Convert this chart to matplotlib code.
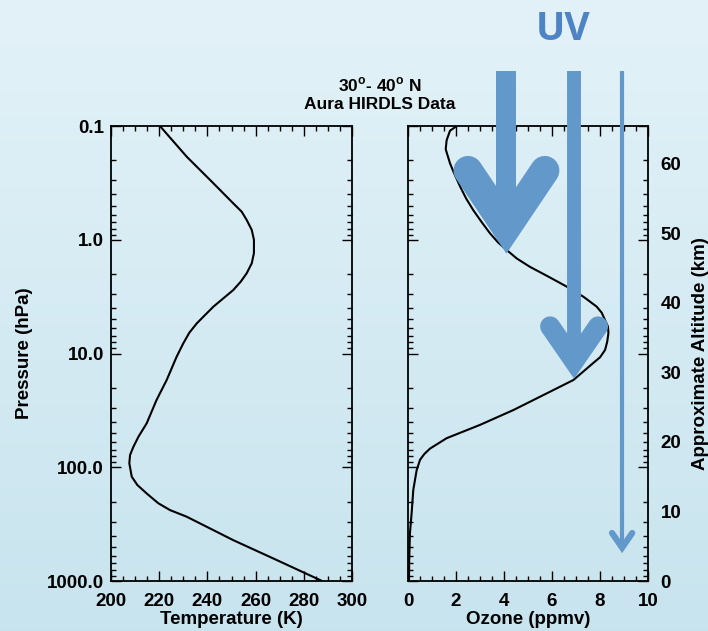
import numpy as np
import matplotlib
matplotlib.use('Agg')
import matplotlib.pyplot as plt
from matplotlib.ticker import FixedLocator, MultipleLocator, LogLocator, FuncFormatter, NullFormatter

plt.rcParams['font.family'] = ['Liberation Sans', 'DejaVu Sans']
plt.rcParams['font.weight'] = 'bold'
plt.rcParams['mathtext.fontset'] = 'custom'
plt.rcParams['mathtext.rm'] = 'Liberation Sans:bold'
plt.rcParams['mathtext.bf'] = 'Liberation Sans:bold'

# temperature profile, 30-40N
t_press = [0.1, 0.186, 0.319, 0.478, 0.566, 0.67, 0.82, 1.0, 1.31, 1.61, 1.97, 2.34, 2.77,
           3.87, 4.59, 5.43, 6.56, 8.13, 10.7, 17.1, 25.6, 41.1, 53.8, 66.0, 78.0, 92.3,
           121, 143, 170, 207, 238, 272, 437, 653, 1000]
t_temp = [220.3, 231.4, 242.5, 250.7, 254.2, 256.3, 258.4, 259.3, 259.3, 258.4, 256.3, 253.8,
          250.7, 242.5, 239.0, 235.6, 232.5, 230.0, 227.2, 223.1, 218.9, 214.8, 211.4, 209.3,
          207.9, 207.6, 208.6, 210.9, 214.8, 219.6, 224.5, 231.4, 250.7, 268.7, 287.6]

# ozone profile
o_press = [0.1, 0.11, 0.133, 0.16, 0.213, 0.26, 0.34, 0.433, 0.55, 0.70, 0.88, 1.06, 1.23,
           1.46, 1.73, 2.11, 2.58, 3.17, 3.87, 4.38, 5.1, 5.8, 6.6, 7.87, 9.3, 10.8, 12.1,
           17.1, 22.4, 31.4, 42.4, 55.5, 61.7, 68.4, 76.4, 86, 106, 158, 253, 380, 650, 1000]
o_ppmv = [2.03, 1.75, 1.61, 1.57, 1.75, 1.92, 2.17, 2.42, 2.72, 3.07, 3.42, 3.76, 4.11,
          4.53, 5.08, 5.85, 6.61, 7.31, 7.86, 8.07, 8.21, 8.33, 8.35, 8.30, 8.21, 8.0, 7.72,
          6.89, 5.78, 4.39, 3.0, 1.61, 1.26, 0.92, 0.68, 0.5, 0.36, 0.22, 0.15, 0.08, 0.05,
          0.04]

p_ticks = [0.1, 1.0, 10.0, 100.0, 1000.0]
p_labels = ['0.1', '1.0', '10.0', '100.0', '1000.0']
alt_ticks = [0, 10, 20, 30, 40, 50, 60]

# UV arrows: x position (ppmv), top/head altitudes (km), head half-width, widths
uv_x = [4.1, 6.92, 8.92]
uv_top = [73.3, 73.3, 73.3]
uv_vertex = [50.8, 31.6, 4.8]
uv_arm_top = [59.0, 36.6, 6.9]
uv_half = [1.6, 1.0, 0.42]
uv_shaft_lw = [14.4, 10.0, 3.0]
uv_head_lw = [21.0, 14.4, 4.5]

H = 7.1  # scale height, km
arrow_col = '#6398ca'

fig = plt.figure(figsize=(7.08, 6.31), dpi=100)

# background gradient
bg = fig.add_axes([0, 0, 1, 1], zorder=-10)
grad = np.linspace(0, 1, 256)[:, None]
top = np.array([0.890, 0.949, 0.973])
bot = np.array([0.784, 0.894, 0.933])
img = top[None, None, :] * (1 - grad[:, :, None]) + bot[None, None, :] * grad[:, :, None]
bg.imshow(img, aspect='auto', extent=[0, 1, 0, 1])
bg.axis('off')

ax_t = fig.add_axes([0.1568, 0.0792, 0.3404, 0.7211])
ax_o = fig.add_axes([0.5763, 0.0792, 0.3390, 0.7211])


def style_pressure(ax):
    ax.set_facecolor('none')
    ax.set_yscale('log')
    ax.set_ylim(1000, 0.1)
    ax.yaxis.set_major_locator(FixedLocator(p_ticks))
    ax.yaxis.set_minor_locator(LogLocator(base=10, subs=np.arange(2, 10), numticks=20))
    ax.yaxis.set_minor_formatter(NullFormatter())
    ax.tick_params(which='both', direction='in', top=True, right=True, width=1.0,
                   labelsize=13.5)
    ax.tick_params(axis='y', pad=5)
    ax.tick_params(axis='x', pad=8.5)
    ax.tick_params(which='major', length=7)
    ax.tick_params(which='minor', length=3.5)
    for s in ax.spines.values():
        s.set_linewidth(1.3)


style_pressure(ax_t)
ax_t.plot(t_temp, t_press, color='black', lw=1.5)
ax_t.set_xlim(200, 300)
ax_t.xaxis.set_major_locator(MultipleLocator(20))
ax_t.xaxis.set_minor_locator(MultipleLocator(5))
ax_t.yaxis.set_major_formatter(FuncFormatter(lambda v, pos: p_labels[p_ticks.index(v)] if v in p_ticks else ''))
ax_t.set_xlabel('Temperature (K)', fontsize=13.5, fontweight='bold', labelpad=1)
ax_t.set_ylabel('Pressure (hPa)', fontsize=13.5, fontweight='bold', labelpad=10)

style_pressure(ax_o)
ax_o.plot(o_ppmv, o_press, color='black', lw=1.5)
ax_o.set_xlim(0, 10)
ax_o.xaxis.set_major_locator(MultipleLocator(2))
ax_o.xaxis.set_minor_locator(MultipleLocator(0.5))
ax_o.yaxis.set_major_formatter(NullFormatter())
ax_o.set_xlabel('Ozone (ppmv)', fontsize=13.5, fontweight='bold', labelpad=1)

# approximate altitude axis
ax_z = ax_o.twinx()
ax_z.set_facecolor('none')
ax_z.set_ylim(0, H * np.log(1000 / 0.1))
ax_z.set_yticks(alt_ticks)
ax_z.tick_params(axis='y', length=0, pad=9, labelsize=13.5)
ax_z.set_ylabel('Approximate Altitude (km)', fontsize=13.5, fontweight='bold', labelpad=8)
for s in ax_z.spines.values():
    s.set_visible(False)
ax_o.tick_params(which='both', right=True, direction='in')

# UV penetration arrows
for x, top_z, vz, az, hw, slw, hlw in zip(uv_x, uv_top, uv_vertex, uv_arm_top, uv_half,
                                           uv_shaft_lw, uv_head_lw):
    ax_z.plot([x, x], [top_z, vz], color=arrow_col, lw=slw, solid_capstyle='butt',
              clip_on=False, zorder=5)
    ax_z.plot([x - hw, x, x + hw], [az, vz, az], color=arrow_col, lw=hlw,
              solid_capstyle='round', solid_joinstyle='miter', clip_on=False, zorder=5)

fig.text(0.795, 0.953, 'UV', fontsize=28, fontweight='bold', color='#4f84c4',
         family=['Open Sans', 'DejaVu Sans'], ha='center', va='center')
fig.text(0.536, 0.866, r'30$^{\mathbf{o}}$- 40$^{\mathbf{o}}$ N', fontsize=12.5,
         fontweight='bold', ha='center', va='center')
fig.text(0.536, 0.835, 'Aura HIRDLS Data', fontsize=12.5, fontweight='bold',
         ha='center', va='center')

fig.savefig('out.png', dpi=100)
